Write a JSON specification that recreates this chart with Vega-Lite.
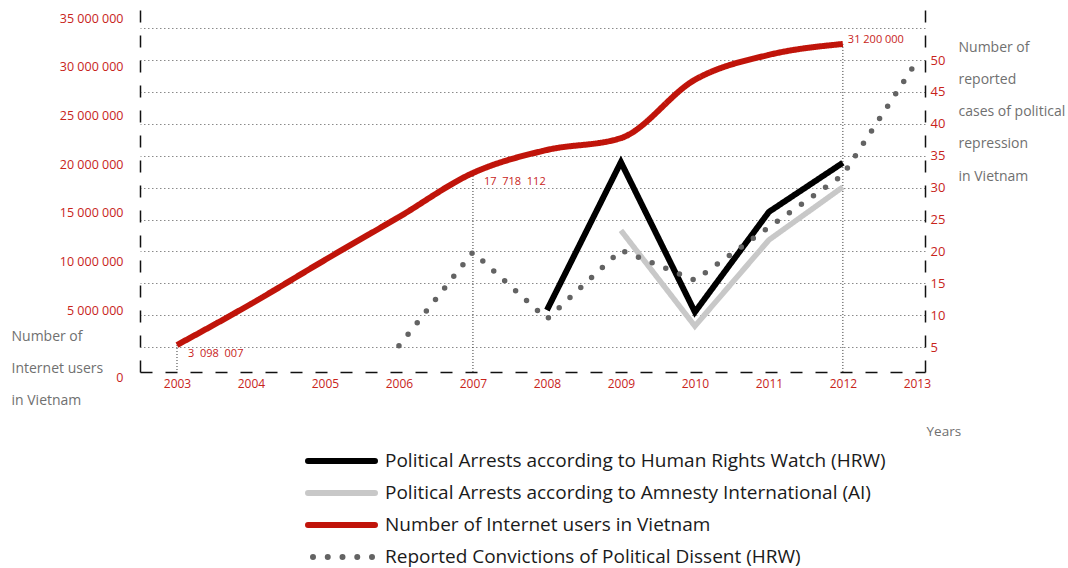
{
  "$schema": "https://vega.github.io/schema/vega-lite/v6.json",
  "width": 785,
  "height": 362,
  "autosize": "none",
  "padding": {"left": 140, "top": 10, "right": 143, "bottom": 196},
  "background": "white",
  "config": {
    "view": {"stroke": null},
    "font": "Open Sans",
    "legend": {
      "orient": "none",
      "legendX": 165,
      "legendY": 435,
      "symbolType": "stroke",
      "symbolSize": 4489,
      "symbolStrokeWidth": 6,
      "symbolDashOffset": 9.75,
      "clipHeight": 32,
      "rowPadding": 0,
      "labelOffset": 7,
      "labelFontSize": 19,
      "labelColor": "#1a1a1a",
      "labelLimit": 0,
      "padding": 0
    }
  },
  "datasets": {
    "internet": [
      {"year": 2003, "users": 3098007, "series": "Number of Internet users in Vietnam", "label": "3\u00a0\u00a0098\u00a0\u00a0007"},
      {"year": 2004, "users": 6090000, "series": "Number of Internet users in Vietnam"},
      {"year": 2005, "users": 9700000, "series": "Number of Internet users in Vietnam"},
      {"year": 2006, "users": 13530000, "series": "Number of Internet users in Vietnam"},
      {"year": 2007, "users": 17718112, "series": "Number of Internet users in Vietnam", "label": "17\u00a0\u00a0718\u00a0\u00a0112"},
      {"year": 2008, "users": 20000000, "series": "Number of Internet users in Vietnam"},
      {"year": 2009, "users": 21200000, "series": "Number of Internet users in Vietnam"},
      {"year": 2010, "users": 27300000, "series": "Number of Internet users in Vietnam"},
      {"year": 2011, "users": 30000000, "series": "Number of Internet users in Vietnam"},
      {"year": 2012, "users": 31200000, "series": "Number of Internet users in Vietnam", "label": "31 200 000"}
    ],
    "cases": [
      {"year": 2008, "cases": 10.8, "series": "Political Arrests according to Human Rights Watch (HRW)"},
      {"year": 2009, "cases": 34.0, "series": "Political Arrests according to Human Rights Watch (HRW)"},
      {"year": 2010, "cases": 10.5, "series": "Political Arrests according to Human Rights Watch (HRW)"},
      {"year": 2011, "cases": 26.2, "series": "Political Arrests according to Human Rights Watch (HRW)"},
      {"year": 2012, "cases": 33.9, "series": "Political Arrests according to Human Rights Watch (HRW)"},
      {"year": 2009, "cases": 23.3, "series": "Political Arrests according to Amnesty International (AI)"},
      {"year": 2010, "cases": 8.3, "series": "Political Arrests according to Amnesty International (AI)"},
      {"year": 2011, "cases": 21.8, "series": "Political Arrests according to Amnesty International (AI)"},
      {"year": 2012, "cases": 30.1, "series": "Political Arrests according to Amnesty International (AI)"},
      {"year": 2006, "cases": 5.2, "series": "Reported Convictions of Political Dissent (HRW)"},
      {"year": 2007, "cases": 19.9, "series": "Reported Convictions of Political Dissent (HRW)"},
      {"year": 2008, "cases": 9.4, "series": "Reported Convictions of Political Dissent (HRW)"},
      {"year": 2009, "cases": 20.2, "series": "Reported Convictions of Political Dissent (HRW)"},
      {"year": 2010, "cases": 15.5, "series": "Reported Convictions of Political Dissent (HRW)"},
      {"year": 2011, "cases": 23.8, "series": "Reported Convictions of Political Dissent (HRW)"},
      {"year": 2012, "cases": 32.0, "series": "Reported Convictions of Political Dissent (HRW)"},
      {"year": 2013, "cases": 49.8, "series": "Reported Convictions of Political Dissent (HRW)"}
    ]
  },
  "encoding": {
    "x": {
      "field": "year",
      "type": "quantitative",
      "scale": {"domain": [2002.5, 2013.11], "nice": false, "zero": false},
      "axis": {
        "values": [2003, 2004, 2005, 2006, 2007, 2008, 2009, 2010, 2011, 2012, 2013],
        "format": "d",
        "grid": false,
        "ticks": false,
        "domainColor": "#111111",
        "domainWidth": 1.5,
        "domainDash": [12, 13],
        "labelColor": "#c8241b",
        "labelFontSize": 12,
        "labelPadding": 6,
        "title": "Years",
        "titleX": 786,
        "titleY": 59,
        "titleAlign": "left",
        "titleBaseline": "middle",
        "titleFontWeight": "normal",
        "titleFontSize": 13.5,
        "titleColor": "#707070"
      }
    }
  },
  "layer": [
    {
      "data": {"name": "internet"},
      "mark": {"type": "point", "opacity": 0},
      "encoding": {
        "y": {
          "field": "users",
          "type": "quantitative",
          "scale": {"domain": [-1366000, 35830000], "nice": false, "zero": false},
          "axis": {
            "orient": "left",
            "values": [0, 5000000, 10000000, 15000000, 20000000, 25000000, 30000000, 35000000],
            "labelExpr": "replace(format(datum.value, ','), regexp(',', 'g'), ' ')",
            "labelOffset": {"condition": {"test": "datum.value === 0", "value": 19}, "value": 0},
            "grid": false,
            "ticks": false,
            "domainColor": "#111111",
            "domainWidth": 1.5,
            "domainDash": [12, 13],
            "labelColor": "#c8241b",
            "labelFontSize": 12.5,
            "labelPadding": 17,
            "title": ["Number of", "Internet users", "in Vietnam"],
            "titleAngle": 0,
            "titleX": -129,
            "titleY": 330,
            "titleAlign": "left",
            "titleBaseline": "alphabetic",
            "titleLineHeight": 32,
            "titleFontWeight": "normal",
            "titleFontSize": 14,
            "titleColor": "#707070"
          }
        }
      }
    },
    {
      "data": {"name": "internet"},
      "encoding": {
        "y": {
          "field": "users",
          "type": "quantitative",
          "scale": {"type": "pow", "exponent": 0.785, "domain": [1414000, 35000000], "nice": false, "zero": false},
          "axis": null
        }
      },
      "layer": [
        {
          "transform": [{"filter": "datum.label != null"}],
          "mark": {"type": "rule", "color": "#333333", "strokeWidth": 1, "strokeDash": [1, 2]},
          "encoding": {"y2": {"datum": 1414000}}
        },
        {
          "mark": {"type": "line", "interpolate": "monotone", "strokeWidth": 6, "strokeCap": "butt"},
          "encoding": {
            "color": {
              "field": "series", "type": "nominal", "title": null,
              "scale": {
                "domain": ["Political Arrests according to Human Rights Watch (HRW)", "Political Arrests according to Amnesty International (AI)", "Number of Internet users in Vietnam", "Reported Convictions of Political Dissent (HRW)"],
                "range": ["#000000", "#c8c8c8", "#c0140a", "#636363"]
              },
              "legend": {"encoding": {"symbols": {"strokeCap": {"value": "round"}}}}
            },
            "strokeDash": {
              "field": "series", "type": "nominal", "title": null,
              "scale": {
                "domain": ["Political Arrests according to Human Rights Watch (HRW)", "Political Arrests according to Amnesty International (AI)", "Number of Internet users in Vietnam", "Reported Convictions of Political Dissent (HRW)"],
                "range": [[1, 0], [1, 0], [1, 0], [0, 14.75]]
              }
            }
          }
        },
        {
          "transform": [{"filter": "datum.year < 2010 && datum.label != null"}],
          "mark": {"type": "text", "align": "left", "baseline": "middle", "dx": 11, "dy": 9, "fontSize": 11, "color": "#c8241b"},
          "encoding": {"text": {"field": "label"}}
        },
        {
          "transform": [{"filter": "datum.year > 2010 && datum.label != null"}],
          "mark": {"type": "text", "align": "left", "baseline": "middle", "dx": 5, "dy": -4, "fontSize": 11, "color": "#c8241b"},
          "encoding": {"text": {"field": "label"}}
        }
      ]
    },
    {
      "data": {"name": "cases"},
      "encoding": {
        "y": {
          "field": "cases",
          "type": "quantitative",
          "scale": {"domain": [1.1, 57.85], "nice": false, "zero": false},
          "axis": {
            "orient": "right",
            "values": [5, 10, 15, 20, 25, 30, 35, 40, 45, 50, 55],
            "labelExpr": "datum.value > 50 ? '' : datum.label",
            "grid": true,
            "gridColor": "#8a8a8a",
            "gridDash": [1.5, 2.5],
            "gridWidth": 1,
            "ticks": false,
            "domainColor": "#111111",
            "domainWidth": 1.5,
            "domainDash": [12, 13],
            "labelColor": "#c8241b",
            "labelFontSize": 13,
            "labelPadding": 5,
            "title": ["Number of", "reported", "cases of political", "repression", "in Vietnam"],
            "titleAngle": 0,
            "titleX": 33,
            "titleY": 41,
            "titleAlign": "left",
            "titleBaseline": "alphabetic",
            "titleLineHeight": 32.3,
            "titleFontWeight": "normal",
            "titleFontSize": 14,
            "titleColor": "#707070"
          }
        },
        "color": {
          "field": "series", "type": "nominal", "title": null,
          "scale": {
            "domain": ["Political Arrests according to Human Rights Watch (HRW)", "Political Arrests according to Amnesty International (AI)", "Number of Internet users in Vietnam", "Reported Convictions of Political Dissent (HRW)"],
            "range": ["#000000", "#c8c8c8", "#c0140a", "#636363"]
          },
          "legend": {"encoding": {"symbols": {"strokeCap": {"value": "round"}}}}
        },
        "strokeDash": {
          "field": "series", "type": "nominal", "title": null,
          "scale": {
            "domain": ["Political Arrests according to Human Rights Watch (HRW)", "Political Arrests according to Amnesty International (AI)", "Number of Internet users in Vietnam", "Reported Convictions of Political Dissent (HRW)"],
            "range": [[1, 0], [1, 0], [1, 0], [0, 14.75]]
          }
        }
      },
      "layer": [
        {
          "transform": [{"filter": "datum.series === 'Political Arrests according to Amnesty International (AI)'"}],
          "mark": {"type": "line", "strokeWidth": 5.5, "strokeCap": "butt"}
        },
        {
          "transform": [{"filter": "datum.series === 'Political Arrests according to Human Rights Watch (HRW)'"}],
          "mark": {"type": "line", "strokeWidth": 6, "strokeCap": "butt"}
        },
        {
          "transform": [{"filter": "datum.series === 'Reported Convictions of Political Dissent (HRW)'"}],
          "mark": {"type": "line", "strokeWidth": 5.5, "strokeCap": "round"}
        }
      ]
    }
  ],
  "resolve": {"scale": {"y": "independent"}}
}
